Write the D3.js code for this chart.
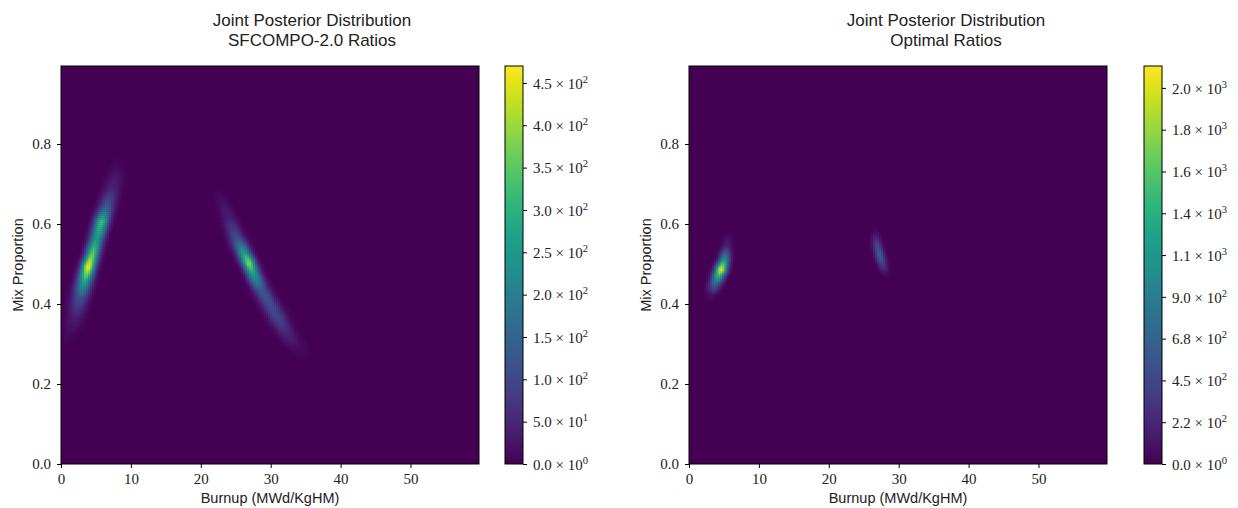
<!DOCTYPE html>
<html><head><meta charset="utf-8">
<script src="https://cdn.jsdelivr.net/npm/d3@7"></script>
<style>body{margin:0;background:#fff}</style>
</head><body><svg id="c" width="1238" height="508"></svg>
<script>
// ---------------- data ----------------
const burnupTicks = [0, 10, 20, 30, 40, 50];
const mixTicks = [0, 0.2, 0.4, 0.6, 0.8];
const burnupRange = [0, 59.8];
const mixRange = [0, 0.995];
const nBins = 200;

const titleA = ["Joint Posterior Distribution", "SFCOMPO-2.0 Ratios"];
const titleB = ["Joint Posterior Distribution", "Optimal Ratios"];
const xLabel = "Burnup (MWd/KgHM)";
const yLabel = "Mix Proportion";

// ridge points of each posterior mode: [burnup, mix, count, spread (burnup units)]
const sfcompoModeLow = [
  [1.0, 0.32, 8, 0.9], [2.0, 0.368, 40, 0.85], [2.7, 0.418, 120, 0.8],
  [3.4, 0.46, 290, 0.72], [3.9, 0.493, 470, 0.65], [4.4, 0.52, 380, 0.65],
  [5.1, 0.564, 260, 0.68], [5.8, 0.606, 330, 0.68], [6.5, 0.64, 150, 0.72],
  [7.3, 0.685, 55, 0.8], [8.2, 0.745, 10, 0.8]
];
const sfcompoModeHigh = [
  [22.6, 0.677, 8, 0.7], [23.9, 0.618, 40, 0.72], [25.1, 0.564, 120, 0.72],
  [26.1, 0.53, 260, 0.66], [26.9, 0.503, 390, 0.62], [27.7, 0.47, 250, 0.66],
  [28.7, 0.435, 130, 0.72], [29.9, 0.40, 110, 0.78], [31.1, 0.364, 100, 0.8],
  [32.3, 0.327, 50, 0.8], [33.7, 0.298, 20, 0.8], [35.2, 0.273, 5, 0.8]
];
const optimalModeLow = [
  [3.1, 0.425, 80, 0.6], [3.8, 0.455, 800, 0.58], [4.6, 0.487, 2120, 0.55],
  [5.1, 0.512, 1100, 0.52], [5.4, 0.545, 200, 0.5], [5.7, 0.575, 30, 0.5]
];
const optimalModeHigh = [
  [26.6, 0.58, 60, 0.45], [26.9, 0.55, 450, 0.45], [27.3, 0.522, 680, 0.45],
  [27.7, 0.50, 420, 0.45], [28.1, 0.478, 80, 0.45]
];

const cbMaxA = 470;
const cbTicksA = [0, 50, 100, 150, 200, 250, 300, 350, 400, 450];
const cbMantA = ["0.0", "5.0", "1.0", "1.5", "2.0", "2.5", "3.0", "3.5", "4.0", "4.5"];
const cbExpA = ["0", "1", "2", "2", "2", "2", "2", "2", "2", "2"];

const cbMaxB = 2143;
const cbTicksB = [0, 225, 450, 675, 900, 1125, 1350, 1575, 1800, 2025];
const cbMantB = ["0.0", "2.2", "4.5", "6.8", "9.0", "1.1", "1.4", "1.6", "1.8", "2.0"];
const cbExpB = ["0", "2", "2", "2", "2", "3", "3", "3", "3", "3"];

// ---------------- drawing ----------------
const svg = d3.select("#c");
const serif = "'Liberation Serif', 'DejaVu Serif', serif";
const sans = "'Liberation Sans', Arial, sans-serif";

function panel(cfg) {
  const g = svg.append("g");
  const x = d3.scaleLinear().domain(burnupRange).range([cfg.x0, cfg.x1]);
  const y = d3.scaleLinear().domain(mixRange).range([cfg.y1, cfg.y0]);
  const color = d3.scaleSequential(d3.interpolateViridis).domain([0, cfg.cbMax]);

  g.append("rect").attr("x", cfg.x0).attr("y", cfg.y0)
    .attr("width", cfg.x1 - cfg.x0).attr("height", cfg.y1 - cfg.y0)
    .attr("fill", color(0));

  const bw = (burnupRange[1] - burnupRange[0]) / nBins;
  const bh = (mixRange[1] - mixRange[0]) / nBins;
  const pxPerBurnup = x(1) - x(0);
  const segs = [];
  cfg.modes.forEach(m => {
    for (let k = 0; k < m.length - 1; k++) segs.push([m[k], m[k + 1]]);
  });
  const cells = [];
  for (let i = 0; i < nBins; i++) {
    const px = x(burnupRange[0] + (i + 0.5) * bw);
    for (let j = 0; j < nBins; j++) {
      const py = y(mixRange[0] + (j + 0.5) * bh);
      let v = 0;
      for (const [a, b] of segs) {
        const ax = x(a[0]), ay = y(a[1]), cx = x(b[0]), cy = y(b[1]);
        const dx = cx - ax, dy = cy - ay;
        let t = ((px - ax) * dx + (py - ay) * dy) / (dx * dx + dy * dy);
        t = Math.max(0, Math.min(1, t));
        const qx = ax + t * dx - px, qy = ay + t * dy - py;
        const s = (a[3] + t * (b[3] - a[3])) * pxPerBurnup;
        const c = a[2] + t * (b[2] - a[2]);
        const val = c * Math.exp(-(qx * qx + qy * qy) / (2 * s * s));
        if (val > v) v = val;
      }
      if (v > cfg.cbMax * 0.003) cells.push({ i, j, v });
    }
  }
  g.selectAll("rect.cell").data(cells).join("rect").attr("class", "cell")
    .attr("x", d => x(burnupRange[0] + d.i * bw))
    .attr("y", d => y(mixRange[0] + (d.j + 1) * bh))
    .attr("width", x(bw) - x(0) + 0.4)
    .attr("height", y(0) - y(bh) + 0.4)
    .attr("fill", d => color(d.v));

  g.append("rect").attr("x", cfg.x0).attr("y", cfg.y0)
    .attr("width", cfg.x1 - cfg.x0).attr("height", cfg.y1 - cfg.y0)
    .attr("fill", "none").attr("stroke", "#000").attr("stroke-width", 1);

  const xa = g.append("g").attr("transform", `translate(0,${cfg.y1})`)
    .call(d3.axisBottom(x).tickValues(burnupTicks).tickSize(4).tickPadding(5).tickFormat(d3.format("d")));
  const ya = g.append("g").attr("transform", `translate(${cfg.x0},0)`)
    .call(d3.axisLeft(y).tickValues(mixTicks).tickSize(4).tickPadding(6).tickFormat(d3.format(".1f")));
  [xa, ya].forEach(a => {
    a.select(".domain").remove();
    a.selectAll("text").attr("font-family", serif).attr("font-size", 15).attr("fill", "#222");
    a.selectAll("line").attr("stroke", "#000");
  });

  g.append("text").attr("x", (cfg.x0 + cfg.x1) / 2).attr("y", 503)
    .attr("text-anchor", "middle").attr("font-family", sans).attr("font-size", 14.5)
    .attr("fill", "#222").text(xLabel);
  g.append("text").attr("transform", `translate(${cfg.x0 - 38},${(cfg.y0 + cfg.y1) / 2}) rotate(-90)`)
    .attr("text-anchor", "middle").attr("font-family", sans).attr("font-size", 14.5)
    .attr("fill", "#222").text(yLabel);

  cfg.title.forEach((t, k) => {
    g.append("text").attr("x", cfg.titleX).attr("y", 26 + k * 20)
      .attr("text-anchor", "middle").attr("font-family", sans).attr("font-size", 17)
      .attr("fill", "#222").text(t);
  });

  const gid = "grad" + cfg.id;
  const grad = svg.append("defs").append("linearGradient").attr("id", gid)
    .attr("x1", 0).attr("y1", 1).attr("x2", 0).attr("y2", 0);
  d3.range(0, 1.0001, 0.05).forEach(f => {
    grad.append("stop").attr("offset", f).attr("stop-color", color(f * cfg.cbMax));
  });
  const cy = d3.scaleLinear().domain([0, cfg.cbMax]).range([cfg.y1, cfg.y0]);
  g.append("rect").attr("x", cfg.cbX).attr("y", cfg.y0).attr("width", cfg.cbW)
    .attr("height", cfg.y1 - cfg.y0).attr("fill", `url(#${gid})`)
    .attr("stroke", "#000").attr("stroke-width", 1);
  const ca = g.append("g").attr("transform", `translate(${cfg.cbX + cfg.cbW},0)`)
    .call(d3.axisRight(cy).tickValues(cfg.cbTicks).tickSize(4).tickFormat(""));
  ca.select(".domain").remove();
  ca.selectAll("line").attr("stroke", "#000");
  ca.selectAll(".tick").each(function (d, k) {
    const t = d3.select(this).append("text").attr("x", 10).attr("dy", "0.35em")
      .attr("font-family", serif).attr("font-size", 15).attr("fill", "#222")
      .attr("text-anchor", "start");
    t.append("tspan").text(cfg.cbMant[k] + " × 10");
    t.append("tspan").attr("dy", -6).attr("font-size", 10.5).text(cfg.cbExp[k]);
  });
}

panel({ id: "A", x0: 61, x1: 479, y0: 66, y1: 464, cbX: 505, cbW: 18,
  titleX: 312, title: titleA, modes: [sfcompoModeLow, sfcompoModeHigh],
  cbMax: cbMaxA, cbTicks: cbTicksA, cbMant: cbMantA, cbExp: cbExpA });
panel({ id: "B", x0: 689, x1: 1107, y0: 66, y1: 464, cbX: 1144, cbW: 18,
  titleX: 946, title: titleB, modes: [optimalModeLow, optimalModeHigh],
  cbMax: cbMaxB, cbTicks: cbTicksB, cbMant: cbMantB, cbExp: cbExpB });
</script></body></html>
